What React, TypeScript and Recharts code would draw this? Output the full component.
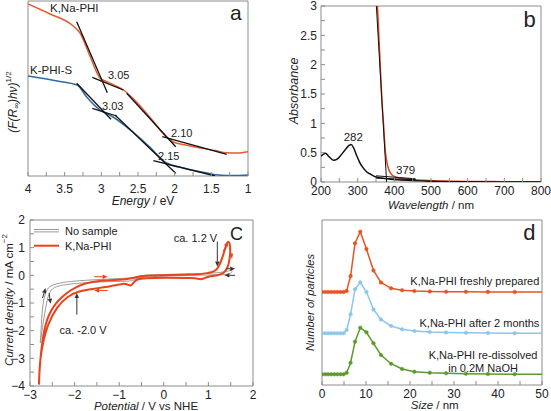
import React from 'react';
import { LineChart, Line, XAxis, YAxis, ReferenceArea, ReferenceDot, ReferenceLine, Legend } from 'recharts';

const FONT = '"Liberation Sans", Arial, Helvetica, sans-serif';
const INK = '#222';
const FRAME = '#8c8c8c';

// ---- panel a: Tauc plot (arbitrary units)
const naPhiEnergy = [4.0, 3.7, 3.4, 3.29, 3.15, 3.02, 2.95, 2.82, 2.7, 2.57, 2.34, 2.11, 2.02, 1.85, 1.65, 1.45, 1.29, 1.15, 1.0];
const naPhiTauc = [172, 162, 151, 143, 119, 98, 95, 90.7, 86, 77.7, 59, 39, 34, 31, 28, 25.5, 23.3, 23, 24.3];
const kPhiEnergy = [4.0, 3.6, 3.33, 3.2, 3.02, 2.84, 2.57, 2.34, 2.11, 1.88, 1.7, 1.56, 1.4, 1.2, 1.0];
const kPhiTauc = [100, 95, 91, 79, 66, 59, 44, 29, 13, 8, 5, 3, 1, 0.5, 1];
const naPhiFits = [
  [[3.336, 154.3], [2.918, 83.3]],
  [[3.123, 98.7], [2.7, 86]],
  [[2.654, 82.7], [1.986, 29.3]],
  [[2.168, 39.3], [1.29, 21.7]],
];
const kPhiFits = [
  [[3.336, 92.7], [2.868, 56.7]],
  [[3.123, 67.7], [2.791, 60]],
  [[2.814, 61], [1.986, 2.7]],
  [[2.291, 15.3], [1.45, 0]],
];
const energyTicks = [1, 1.25, 1.5, 1.75, 2, 2.25, 2.5, 2.75, 3, 3.25, 3.5, 3.75, 4];

// ---- panel b: absorbance
const solWavelength = [200, 212, 222, 234, 244, 252, 266, 276, 282, 289, 298, 305, 312, 325, 336, 348, 365, 380, 410, 450, 500, 550, 600, 700, 800];
const solAbsorbance = [0.44, 0.49, 0.43, 0.37, 0.39, 0.44, 0.55, 0.62, 0.64, 0.58, 0.44, 0.34, 0.265, 0.17, 0.13, 0.09, 0.07, 0.055, 0.038, 0.024, 0.012, 0.006, 0.003, 0.001, 0];
const solidWavelength = [354, 360, 366, 371, 375, 378, 382, 387, 393, 400, 416, 435, 452, 480, 507, 550, 600, 650, 700, 750, 800];
const solidAbsorbance = [3.0, 2.2, 1.4, 0.95, 0.55, 0.4, 0.27, 0.18, 0.124, 0.095, 0.068, 0.05, 0.039, 0.028, 0.02, 0.014, 0.01, 0.008, 0.006, 0.005, 0.004];
const edgeFits = [
  [[351, 3.0], [379, 0]],
  [[350, 0.105], [458, 0.055]],
  [[350, 0.065], [458, 0.04]],
];
const wavelengthTicks = [200, 250, 300, 350, 400, 450, 500, 550, 600, 650, 700, 750, 800];
const absTicks = [0, 0.25, 0.5, 0.75, 1, 1.25, 1.5, 1.75, 2, 2.25, 2.5, 2.75, 3];

// ---- panel c: cyclic voltammetry [V vs NHE, mA cm-2]
const blankForward = [[-2.77, -2.45], [-2.745, -1.8], [-2.72, -1.06], [-2.65, -0.58], [-2.57, -0.4], [-2.39, -0.28], [-1.94, -0.19], [-1.19, -0.13], [-0.74, -0.1], [-0.59, -0.04], [-0.44, 0.02], [0.69, 0.05], [1.14, 0.08], [1.44, 0.14], [1.55, 0.22]];
const blankReverse = [[1.52, 0.02], [1.14, 0.02], [0.69, 0.0], [-0.51, -0.04], [-0.66, -0.16], [-0.74, -0.22], [-1.19, -0.22], [-1.94, -0.28], [-2.39, -0.37], [-2.54, -0.52], [-2.61, -0.82], [-2.69, -1.54], [-2.77, -2.45]];
const phiForward = [[-2.8, -3.95], [-2.78, -3.22], [-2.74, -2.6], [-2.69, -2.02], [-2.62, -1.6], [-2.54, -1.3], [-2.43, -1.03], [-2.31, -0.82], [-2.09, -0.52], [-1.79, -0.28], [-1.41, -0.18], [-0.96, -0.16], [-0.74, -0.12], [-0.59, -0.06], [-0.44, 0], [0.69, 0.02], [0.99, 0.08], [1.18, 0.14], [1.29, 0.5], [1.4, 1.1], [1.45, 1.28]];
const phiReverse = [[1.5, 1.04], [1.48, 0.6], [1.44, 0.3], [1.36, 0.08], [1.21, 0], [0.99, -0.04], [0.84, -0.16], [0.76, -0.12], [0.69, -0.1], [0, -0.08], [-0.44, -0.1], [-0.59, -0.13], [-0.66, -0.22], [-0.74, -0.4], [-0.8, -0.34], [-0.89, -0.28], [-1.19, -0.4], [-1.56, -0.48], [-1.94, -0.58], [-2.16, -0.76], [-2.39, -1.12], [-2.61, -1.78], [-2.72, -2.5], [-2.78, -3.1], [-2.8, -3.95]];
const potentialTicks = [-3, -2.5, -2, -1.5, -1, -0.5, 0, 0.5, 1, 1.5, 2];
const currentTicks = [-4, -3.5, -3, -2.5, -2, -1.5, -1, -0.5, 0, 0.5, 1, 1.5, 2];

// ---- panel d: particle size distributions (offset traces)
const sizeBins = [0, 0.7, 1.4, 2.1, 2.8, 3.5, 4.2, 4.9, 5.6, 6.5, 7.5, 8.7, 10.1, 11.7, 13.4, 15.7, 18.2, 21.0, 24.5, 28.2, 32.7, 37.7, 43.8, 50.8];
const freshCounts = [93, 93, 93, 93, 93, 93, 93, 93, 94, 109, 141.7, 153.3, 136, 114.5, 102.5, 96.7, 94.8, 94, 93.5, 93.3, 93.3, 93.1, 93, 93];
const agedCounts = [51.7, 51.7, 51.7, 51.7, 51.7, 51.7, 51.7, 51.7, 55, 70.7, 95.7, 102.7, 93, 75.5, 65.5, 59, 55.7, 54, 53, 52.5, 52.2, 52, 51.8, 51.7];
const redissolvedCounts = [10.7, 10.7, 10.7, 10.7, 10.7, 10.7, 10.7, 10.7, 12.3, 22.3, 43.3, 57.3, 52.7, 41.7, 30, 21.3, 16, 13.3, 12.3, 11.7, 11.3, 11, 10.8, 10.7];
const sizeTicks = [0, 5, 10, 15, 20, 25, 30, 35, 40, 45, 50];

const xy = (xs: number[], ys: number[]) => xs.map((x, i) => ({ x, y: ys[i] }));
const pts = (pairs: number[][]) => pairs.map(([x, y]) => ({ x, y }));

const tickStyle = { fontSize: 12, fill: INK };
const minus = (v: number) => String(v).replace('-', '\u2212');

// axis titles, placed relative to the plot edge the axis sits on
const xTitle = (dx: number, dy: number, content: React.ReactNode, size = 12) => (props: any) => {
  const vb = props.viewBox;
  return (
    <text x={vb.x + vb.width / 2 + dx} y={vb.y + dy} textAnchor="middle" dominantBaseline="central" fontSize={size} fill={INK}>
      {content}
    </text>
  );
};

const yTitle = (dx: number, dy: number, content: React.ReactNode, size = 12) => (props: any) => {
  const vb = props.viewBox;
  const cx = vb.x + vb.width + dx;
  const cy = vb.y + vb.height / 2 + dy;
  return (
    <text x={cx} y={cy} transform={`rotate(-90 ${cx} ${cy})`} textAnchor="middle" dominantBaseline="central" fontSize={size} fill={INK}>
      {content}
    </text>
  );
};

type NoteOpts = { anchor?: 'start' | 'middle' | 'end'; size?: number; base?: 'central' | 'alphabetic' };
const note = (key: string, x: number, y: number, text: string, o: NoteOpts = {}) => (
  <ReferenceDot
    key={key}
    x={x}
    y={y}
    r={0}
    ifOverflow="visible"
    shape={(p: any) => (
      <text x={p.cx} y={p.cy} textAnchor={o.anchor ?? 'start'} dominantBaseline={o.base ?? 'central'} fontSize={o.size ?? 11} fill={INK}>
        {text}
      </text>
    )}
  />
);

const arrowShape = (color: string) => (p: any) => {
  const { x1, y1, x2, y2 } = p;
  const ang = Math.atan2(y2 - y1, x2 - x1);
  const len = 5;
  const half = 2.2;
  const bx = x2 - len * Math.cos(ang);
  const by = y2 - len * Math.sin(ang);
  const nx = -Math.sin(ang) * half;
  const ny = Math.cos(ang) * half;
  return (
    <g>
      <line x1={x1} y1={y1} x2={bx} y2={by} stroke={color} strokeWidth={1} />
      <polygon points={`${x2},${y2} ${bx + nx},${by + ny} ${bx - nx},${by - ny}`} fill={color} />
    </g>
  );
};

const arrow = (key: string, from: number[], to: number[], color: string) => (
  <ReferenceLine key={key} segment={[{ x: from[0], y: from[1] }, { x: to[0], y: to[1] }]} ifOverflow="visible" shape={arrowShape(color)} />
);

function PanelA() {
  return (
    <LineChart width={275} height={212} margin={{ top: 1, right: 27, bottom: 0, left: 0 }}>
      <XAxis
        type="number"
        dataKey="x"
        domain={[1, 4]}
        reversed
        allowDataOverflow
        ticks={energyTicks}
        interval={0}
        height={36}
        axisLine={false}
        tickSize={-4}
        tickMargin={12}
        tickLine={{ stroke: FRAME }}
        tick={tickStyle}
        tickFormatter={(v: number) => (Number.isInteger(v * 2) ? String(v) : '')}
        label={xTitle(5, 25, <><tspan fontStyle="italic">Energy</tspan>{' / eV'}</>)}
      />
      <YAxis
        type="number"
        domain={[0, 175]}
        allowDataOverflow
        width={28}
        tick={false}
        tickLine={false}
        axisLine={false}
        label={yTitle(-15, 13.5, (
          <>
            <tspan fontStyle="italic">(F(R</tspan>
            <tspan fontStyle="italic" fontSize={8} dy={3}>∞</tspan>
            <tspan fontStyle="italic" dy={-3}>)hν)</tspan>
            <tspan fontSize={8} dy={-5}>1/2</tspan>
          </>
        ))}
      />
      <ReferenceArea x1={1} x2={4} y1={0} y2={175} fill="none" stroke={FRAME} />
      <Line data={xy(naPhiEnergy, naPhiTauc)} dataKey="y" type="monotone" stroke="#e45b2c" strokeWidth={1.5} dot={false} isAnimationActive={false} />
      <Line data={xy(kPhiEnergy, kPhiTauc)} dataKey="y" type="monotone" stroke="#2f69a3" strokeWidth={1.5} dot={false} isAnimationActive={false} />
      {[...naPhiFits, ...kPhiFits].map((seg, i) => (
        <Line key={`fit-${i}`} data={pts(seg)} dataKey="y" type="linear" stroke="#111" strokeWidth={1.3} dot={false} isAnimationActive={false} />
      ))}
      {note('na', 3.7, 168, 'K,Na-PHI', { size: 11.5 })}
      {note('k', 3.973, 106, 'K-PHI-S', { size: 11.5 })}
      {note('e1', 2.909, 101, '3.05')}
      {note('e2', 2.99, 70, '3.03')}
      {note('e3', 2.05, 43, '2.10')}
      {note('e4', 2.227, 20, '2.15')}
      {note('tag', 1.245, 156, 'a', { size: 21, base: 'alphabetic' })}
    </LineChart>
  );
}

function PanelB() {
  return (
    <LineChart width={276} height={212} margin={{ top: 6, right: 10, bottom: 0, left: 0 }}>
      <XAxis
        type="number"
        dataKey="x"
        domain={[200, 800]}
        allowDataOverflow
        ticks={wavelengthTicks}
        interval={0}
        height={30}
        axisLine={false}
        tickSize={-4}
        tickMargin={8.5}
        tickLine={{ stroke: FRAME }}
        tick={tickStyle}
        tickFormatter={(v: number) => (v % 100 === 0 ? String(v) : '')}
        label={xTitle(0, 22.5, <><tspan fontStyle="italic">Wavelength</tspan>{' / nm'}</>, 11.5)}
      />
      <YAxis
        type="number"
        domain={[0, 3]}
        allowDataOverflow
        ticks={absTicks}
        interval={0}
        width={46}
        axisLine={false}
        tickSize={-4}
        tickMargin={8}
        tickLine={{ stroke: FRAME }}
        tick={tickStyle}
        tickFormatter={(v: number) => (Number.isInteger(v * 2) ? String(v) : '')}
        label={yTitle(-27.4, -3, <tspan fontStyle="italic">Absorbance</tspan>, 12.5)}
      />
      <ReferenceArea x1={200} x2={800} y1={0} y2={3} fill="none" stroke={FRAME} />
      <Line data={xy(solidWavelength, solidAbsorbance)} dataKey="y" type="monotone" stroke="#e0441c" strokeWidth={1.5} dot={false} isAnimationActive={false} />
      <Line data={xy(solWavelength, solAbsorbance)} dataKey="y" type="monotone" stroke="#111" strokeWidth={1.5} dot={false} isAnimationActive={false} />
      {edgeFits.map((seg, i) => (
        <Line key={`edge-${i}`} data={pts(seg)} dataKey="y" type="linear" stroke="#111" strokeWidth={1} dot={false} isAnimationActive={false} />
      ))}
      {note('p282', 288, 0.77, '282', { anchor: 'middle', size: 11.5 })}
      {note('p379', 430.7, 0.2, '379', { anchor: 'middle', size: 11.5 })}
      {note('tag', 752, 2.65, 'b', { size: 22, base: 'alphabetic' })}
    </LineChart>
  );
}

const cvSeries = [
  { name: 'No sample', color: '#9a9a9a', width: 1 },
  { name: 'K,Na-PHI', color: '#e8431a', width: 2 },
];

function CvLegend() {
  return (
    <svg width={130} height={30} style={{ overflow: 'visible' }}>
      {cvSeries.map((s, i) => (
        <g key={s.name} transform={`translate(0, ${6.7 + i * 15})`}>
          {s.width < 1.5 ? (
            <>
              <line x1={0} x2={25} y1={-1.2} y2={-1.2} stroke={s.color} strokeWidth={1} />
              <line x1={0} x2={25} y1={1.2} y2={1.2} stroke={s.color} strokeWidth={1} />
            </>
          ) : (
            <line x1={0} x2={25} y1={0} y2={0} stroke={s.color} strokeWidth={s.width} />
          )}
          <text x={31} y={0} dominantBaseline="central" fontSize={11} fill={INK} fontFamily={FONT}>
            {s.name}
          </text>
        </g>
      ))}
    </svg>
  );
}

function PanelC() {
  const dark = '#333';
  const red = cvSeries[1].color;
  return (
    <LineChart width={275} height={206} margin={{ top: 15, right: 22, bottom: 0, left: 0 }}>
      <XAxis
        type="number"
        dataKey="x"
        domain={[-3, 2]}
        allowDataOverflow
        ticks={potentialTicks}
        interval={0}
        height={25}
        axisLine={false}
        tickSize={-4}
        tickMargin={8}
        tickLine={{ stroke: FRAME }}
        tick={tickStyle}
        tickFormatter={(v: number) => (Number.isInteger(v) ? minus(v) : '')}
        label={xTitle(4.5, 19.5, <><tspan fontStyle="italic">Potential</tspan>{' / V vs NHE'}</>, 11.5)}
      />
      <YAxis
        type="number"
        domain={[-4, 2]}
        allowDataOverflow
        ticks={currentTicks}
        interval={0}
        width={30}
        axisLine={false}
        tickSize={-4}
        tickMargin={9}
        tickLine={{ stroke: FRAME }}
        tick={tickStyle}
        tickFormatter={(v: number) => (Number.isInteger(v) ? minus(v) : '')}
        label={yTitle(-21, -3, (
          <>
            <tspan fontStyle="italic">Current density</tspan>
            {' / mA cm'}
            <tspan fontSize={8} dy={-5}>−2</tspan>
          </>
        ), 11.5)}
      />
      <ReferenceArea x1={-3} x2={2} y1={-4} y2={2} fill="none" stroke={FRAME} />
      <Line data={pts([...blankForward, ...blankReverse])} name={cvSeries[0].name} dataKey="y" type="basis" stroke={cvSeries[0].color} strokeWidth={1} dot={false} isAnimationActive={false} />
      <Line data={pts([...phiForward, ...phiReverse])} name={cvSeries[1].name} dataKey="y" type="basis" stroke={red} strokeWidth={2} dot={false} isAnimationActive={false} />
      {arrow('a12', [1.2, 1.22], [1.2, 0.32], dark)}
      {arrow('a20', [-1.95, -1.42], [-1.95, -0.64], dark)}
      {arrow('l1', [-2.72, -0.82], [-2.65, -0.46], dark)}
      {arrow('l2', [-2.57, -0.64], [-2.54, -1.03], dark)}
      {arrow('r1', [-1.56, -0.05], [-1.26, -0.05], red)}
      {arrow('r2', [-1.26, -0.55], [-1.56, -0.55], red)}
      {arrow('r3', [1.33, 0.86], [1.44, 1.22], red)}
      {arrow('r4', [1.48, 0.98], [1.53, 0.6], red)}
      {arrow('g1', [1.4, 0.24], [1.6, 0.24], dark)}
      {arrow('g2', [1.6, 0.0], [1.36, 0.0], dark)}
      {note('v12', 0.71, 1.35, 'ca. 1.2 V', { anchor: 'middle' })}
      {note('v20', -1.81, -1.96, 'ca. -2.0 V', { anchor: 'middle' })}
      {note('tag', 1.484, 1.28, 'C', { size: 18, base: 'alphabetic' })}
      <Legend
        layout="vertical"
        align="center"
        verticalAlign="middle"
        wrapperStyle={{ position: 'absolute', left: 34, top: 19, right: 'auto', bottom: 'auto', width: 130, height: 30 }}
        content={() => <CvLegend />}
      />
    </LineChart>
  );
}

function PanelD() {
  const dsets = [
    { counts: freshCounts, color: '#e8531f' },
    { counts: agedCounts, color: '#8cc6ea' },
    { counts: redissolvedCounts, color: '#5b9a2b' },
  ];
  return (
    <LineChart width={276} height={206} margin={{ top: 15, right: 9, bottom: 0, left: 0 }}>
      <XAxis
        type="number"
        dataKey="x"
        domain={[0, 50]}
        allowDataOverflow
        ticks={sizeTicks}
        interval={0}
        height={26}
        axisLine={false}
        tickSize={-4}
        tickMargin={8.5}
        tickLine={{ stroke: FRAME }}
        tick={tickStyle}
        tickFormatter={(v: number) => (v % 10 === 0 ? String(v) : '')}
        label={xTitle(2.7, 20, <><tspan fontStyle="italic">Size</tspan>{' / nm'}</>, 11.5)}
      />
      <YAxis
        type="number"
        domain={[0, 165]}
        allowDataOverflow
        width={47}
        tick={false}
        tickLine={false}
        axisLine={false}
        label={yTitle(-12, 0, <tspan fontStyle="italic">Number of particles</tspan>, 11.2)}
      />
      <ReferenceArea x1={0} x2={50} y1={0} y2={165} fill="none" stroke={FRAME} />
      {dsets.map((d, i) => (
        <Line
          key={`dls-${i}`}
          data={xy(sizeBins, d.counts)}
          dataKey="y"
          type="linear"
          stroke={d.color}
          strokeWidth={1.5}
          dot={{ r: 1.8, fill: d.color, stroke: d.color, strokeWidth: 0.5 }}
          isAnimationActive={false}
        />
      ))}
      {note('t1', 49.4, 104, 'K,Na-PHI freshly prepared', { anchor: 'end' })}
      {note('t2', 49.4, 61.7, 'K,Na-PHI after 2 months', { anchor: 'end' })}
      {note('t3', 36.6, 30, 'K,Na-PHI re-dissolved', { anchor: 'middle' })}
      {note('t4', 36.6, 16.7, 'in 0.2M NaOH', { anchor: 'middle' })}
      {note('tag', 45.75, 145, 'd', { size: 22, base: 'alphabetic' })}
    </LineChart>
  );
}

export default function App() {
  return (
    <div style={{ position: 'absolute', left: 0, top: 0, width: 551, height: 411, background: '#fff', fontFamily: FONT, overflow: 'hidden' }}>
      <div style={{ position: 'absolute', left: 0, top: 205 }}>
        <PanelC />
      </div>
      <div style={{ position: 'absolute', left: 275, top: 205 }}>
        <PanelD />
      </div>
      <div style={{ position: 'absolute', left: 0, top: 0 }}>
        <PanelA />
      </div>
      <div style={{ position: 'absolute', left: 275, top: 0 }}>
        <PanelB />
      </div>
    </div>
  );
}
